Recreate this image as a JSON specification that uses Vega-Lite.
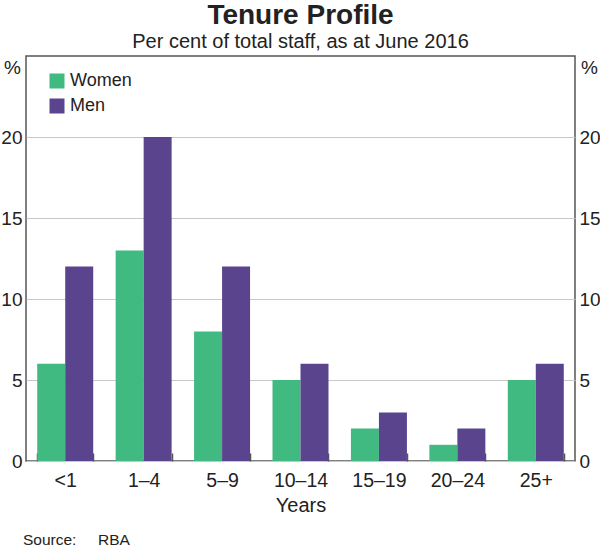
{
  "$schema": "https://vega.github.io/schema/vega-lite/v6.json",
  "width": 549,
  "height": 405,
  "autosize": {"type": "none"},
  "padding": {"left": 26, "top": 56, "right": 25, "bottom": 87},
  "background": "white",
  "title": {
    "text": "Tenure Profile",
    "subtitle": "Per cent of total staff, as at June 2016",
    "anchor": "middle",
    "font": "Liberation Sans",
    "fontSize": 28,
    "fontWeight": "bold",
    "color": "#222",
    "subtitleFont": "Liberation Sans",
    "subtitleFontSize": 20,
    "subtitleColor": "#222",
    "subtitlePadding": 2,
    "offset": 4
  },
  "config": {
    "font": "Liberation Sans",
    "view": {"stroke": "#555", "strokeWidth": 1.5},
    "axis": {"labelFont": "Liberation Sans", "titleFont": "Liberation Sans", "labelColor": "#222", "titleColor": "#222"}
  },
  "datasets": {
    "bars": [
      {"years": "<1", "sex": "Women", "pct": 6},
      {"years": "<1", "sex": "Men", "pct": 12},
      {"years": "1–4", "sex": "Women", "pct": 13},
      {"years": "1–4", "sex": "Men", "pct": 20},
      {"years": "5–9", "sex": "Women", "pct": 8},
      {"years": "5–9", "sex": "Men", "pct": 12},
      {"years": "10–14", "sex": "Women", "pct": 5},
      {"years": "10–14", "sex": "Men", "pct": 6},
      {"years": "15–19", "sex": "Women", "pct": 2},
      {"years": "15–19", "sex": "Men", "pct": 3},
      {"years": "20–24", "sex": "Women", "pct": 1},
      {"years": "20–24", "sex": "Men", "pct": 2},
      {"years": "25+", "sex": "Women", "pct": 5},
      {"years": "25+", "sex": "Men", "pct": 6}
    ],
    "note": [{"text": "Source:\u00a0\u00a0\u00a0\u00a0\u00a0RBA"}]
  },
  "layer": [
    {
      "data": {"name": "bars"},
      "mark": {"type": "bar"},
      "encoding": {
        "x": {
          "field": "years", "type": "nominal",
          "sort": ["<1", "1–4", "5–9", "10–14", "15–19", "20–24", "25+"],
          "scale": {"paddingInner": 0.286, "paddingOuter": 0.143},
          "axis": {
            "title": "Years", "titleFontSize": 20, "titleFontWeight": "normal", "titlePadding": 6,
            "labelAngle": 0, "labelFontSize": 19.5, "labelPadding": 18,
            "domain": false, "tickBand": "extent", "tickOffset": 11.2, "tickSize": -8, "tickColor": "#555", "tickWidth": 1.5,
            "grid": false
          }
        },
        "xOffset": {"field": "sex", "type": "nominal", "sort": ["Women", "Men"], "scale": {"paddingInner": 0, "paddingOuter": 0}},
        "y": {
          "field": "pct", "type": "quantitative",
          "scale": {"domain": [0, 25], "nice": false},
          "axis": {
            "orient": "left", "values": [0, 5, 10, 15, 20], "title": "%",
            "titleAngle": 0, "titleAlign": "center", "titleBaseline": "middle", "titleX": -14, "titleY": 11,
            "titleFontSize": 19, "titleFontWeight": "normal",
            "labelFontSize": 19, "labelPadding": 4, "ticks": false, "domain": false,
            "grid": true, "gridColor": "#c8c8c8", "gridWidth": 1
          }
        },
        "color": {
          "field": "sex", "type": "nominal", "sort": ["Women", "Men"],
          "scale": {"domain": ["Women", "Men"], "range": ["#40BA80", "#5B448E"]},
          "legend": {
            "title": null, "orient": "none", "legendX": 22, "legendY": 16,
            "symbolType": "square", "symbolSize": 225, "symbolStrokeWidth": 0, "symbolOpacity": 1,
            "labelFontSize": 18, "labelColor": "#222", "labelFont": "Liberation Sans", "rowPadding": 7, "labelOffset": 4
          }
        }
      }
    },
    {
      "data": {"name": "bars"},
      "mark": {"type": "rule", "opacity": 0},
      "encoding": {
        "y": {
          "field": "pct", "type": "quantitative",
          "scale": {"domain": [0, 25], "nice": false},
          "axis": {
            "orient": "right", "values": [0, 5, 10, 15, 20], "title": "%",
            "titleAngle": 0, "titleAlign": "center", "titleBaseline": "middle", "titleX": 14, "titleY": 11,
            "titleFontSize": 19, "titleFontWeight": "normal",
            "labelFontSize": 19, "labelPadding": 4, "ticks": false, "domain": false, "grid": false
          }
        }
      }
    },
    {
      "data": {"name": "note"},
      "mark": {"type": "text", "align": "left", "baseline": "alphabetic", "fontSize": 15.5, "font": "Liberation Sans", "color": "#222", "x": -3, "y": 489},
      "encoding": {"text": {"field": "text"}}
    }
  ],
  "resolve": {"axis": {"y": "independent"}, "scale": {"y": "shared"}}
}
